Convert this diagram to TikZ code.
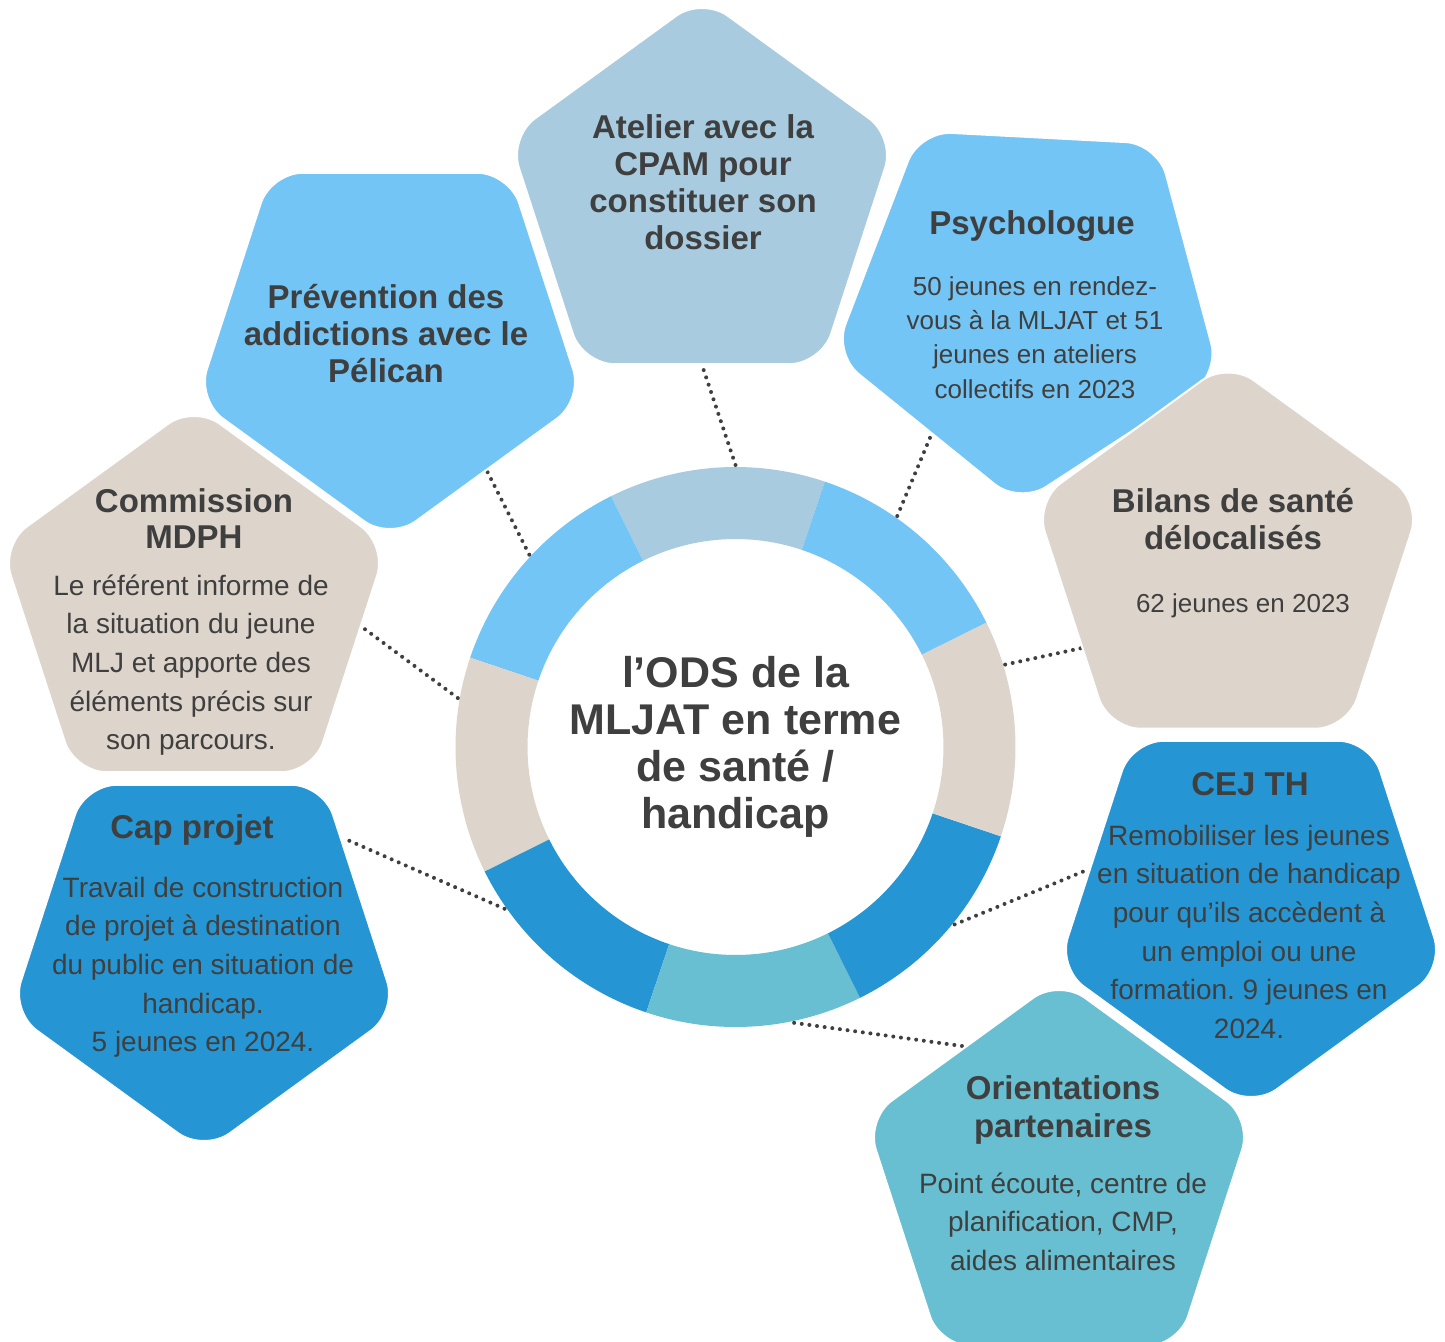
\documentclass[tikz,border=0pt]{standalone}
\usepackage{fontspec}
\setmainfont{Liberation Sans}
\usetikzlibrary{calc}
\frenchspacing

\definecolor{skyA}{HTML}{73C5F5}
\definecolor{steelA}{HTML}{A9CBE0}
\definecolor{sandA}{HTML}{DDD5CC}
\definecolor{blueA}{HTML}{2596D3}
\definecolor{tealA}{HTML}{67BFD1}
\definecolor{ink}{HTML}{3F3F3F}

% rounded regular pentagon: centre x, centre y (downwards), rotation, colour
\newcommand\pentagon[4]{%
  \filldraw[fill=#4, draw=white, line width=2pt, rounded corners=32pt,
            shift={(#1,-#2)}, rotate=#3]
    (126:164.2) -- (162:203) -- (234:203) -- (306:203) -- (18:203) -- (90:203) -- cycle;}

% struts fixing the first baseline of each text block
\newcommand\topH{\rule{0pt}{31pt}}
\newcommand\topB{\rule{0pt}{26pt}}
\newcommand\topP{\rule{0pt}{24pt}}

\begin{document}
\begin{tikzpicture}[x=1pt, y=1pt,
  hd/.style={font=\bfseries\fontsize{33}{37}\selectfont, text=ink, align=center,
             inner sep=0pt, anchor=north},
  bd/.style={font=\fontsize{28}{38.6}\selectfont, text=ink, align=center,
             inner sep=0pt, anchor=north},
  bdp/.style={font=\fontsize{26}{34.3}\selectfont, text=ink, align=center,
              inner sep=0pt, anchor=north},
  dotline/.style={draw=ink, line width=4pt, line cap=round,
                  dash pattern=on 0pt off 7.7pt}]

\useasboundingbox (0,0) rectangle (1445,-1341);
\fill[white] (0,0) rectangle (1445,-1341);

% segmented ring
\begin{scope}[shift={(735.5,-747)}]
  \foreach \a/\c [evaluate=\a as \b using \a+45] in
      {71.4/steelA, 116.4/skyA, 161.4/sandA, 206.4/blueA,
       251.4/tealA, 296.4/blueA, 341.4/sandA, 386.4/skyA}
    \fill[\c] (\a:280) arc[start angle=\a, end angle=\b, radius=280]
      -- (\b:208) arc[start angle=\b, end angle=\a, radius=208] -- cycle;
\end{scope}

% hub with its title
\node[circle, minimum size=564pt, inner sep=0pt, outer sep=0pt, align=center,
      text=ink, font=\bfseries\fontsize{43}{47}\selectfont] (hub) at (735.5,-747)
  {l’ODS de la\\MLJAT en terme\\de santé /\\handicap};

% connector ends on the pentagons
\coordinate (atelierPin) at (702,-365);
\coordinate (psyPin) at (932,-433);
\coordinate (preventionPin) at (486,-469);
\coordinate (mdphPin) at (362,-627);
\coordinate (bilansPin) at (1082,-648);
\coordinate (capPin) at (343,-838);
\coordinate (cejPin) at (1087,-870);
\coordinate (orientPin) at (962,-1046);

\draw[dotline] (hub.90) -- (atelierPin);
\draw[dotline] (hub.55) -- (psyPin);
\draw[dotline] (hub.137) -- (preventionPin);
\draw[dotline] (hub.170) -- (mdphPin);
\draw[dotline] (hub.17) -- (bilansPin);
\draw[dotline] (hub.215) -- (capPin);
\draw[dotline] (hub.321) -- (cejPin);
\draw[dotline] (hub.282) -- (orientPin);

% pentagons
\pentagon{194}{608}{0}{sandA}
\pentagon{390}{337}{180}{skyA}
\pentagon{702}{200}{0}{steelA}
\pentagon{1030}{301.5}{177}{skyA}
\pentagon{1228}{564.5}{0}{sandA}
\pentagon{1251}{905}{180}{blueA}
\pentagon{1059}{1182}{0}{tealA}
\pentagon{204}{949}{180}{blueA}

% pentagon texts
\node[hd] (atelierT) at (703,-107) {\topH Atelier avec la\\CPAM pour\\constituer son\\dossier};
\node[hd] (preventionT) at (386,-277) {\topH Prévention des\\addictions avec le\\Pélican};
\node[hd] (psyT) at (1032,-203) {\topH Psychologue};
\node[bdp] (psyB) at (1035,-271) {\topP 50 jeunes en rendez-\\vous à la MLJAT et 51\\jeunes en ateliers\\collectifs en 2023};
\node[hd] (bilansT) at (1233,-481) {\topH Bilans de santé\\délocalisés};
\node[bdp] (bilansB) at (1243,-588) {\topP 62 jeunes en 2023};
\node[hd, font=\bfseries\fontsize{33}{36}\selectfont] (mdphT) at (194,-481) {\topH Commission\\MDPH};
\node[bd] (mdphB) at (191,-569) {\topB Le référent informe de\\la situation du jeune\\MLJ et apporte des\\éléments précis sur\\son parcours.};
\node[hd] (cejT) at (1250,-764) {\topH CEJ TH};
\node[bd] (cejB) at (1249,-819) {\topB Remobiliser les jeunes\\en situation de handicap\\pour qu’ils accèdent à\\un emploi ou une\\formation. 9 jeunes en\\2024.};
\node[hd, font=\bfseries\fontsize{33}{38}\selectfont] (orientT) at (1063,-1068) {\topH Orientations\\partenaires};
\node[bd] (orientB) at (1063,-1167) {\topB Point écoute, centre de\\planification, CMP,\\aides alimentaires};
\node[hd] (capT) at (192,-807) {\topH Cap projet};
\node[bd] (capB) at (203,-871) {\topB Travail de construction\\de projet à destination\\du public en situation de\\handicap.\\5 jeunes en 2024.};

\end{tikzpicture}
\end{document}
